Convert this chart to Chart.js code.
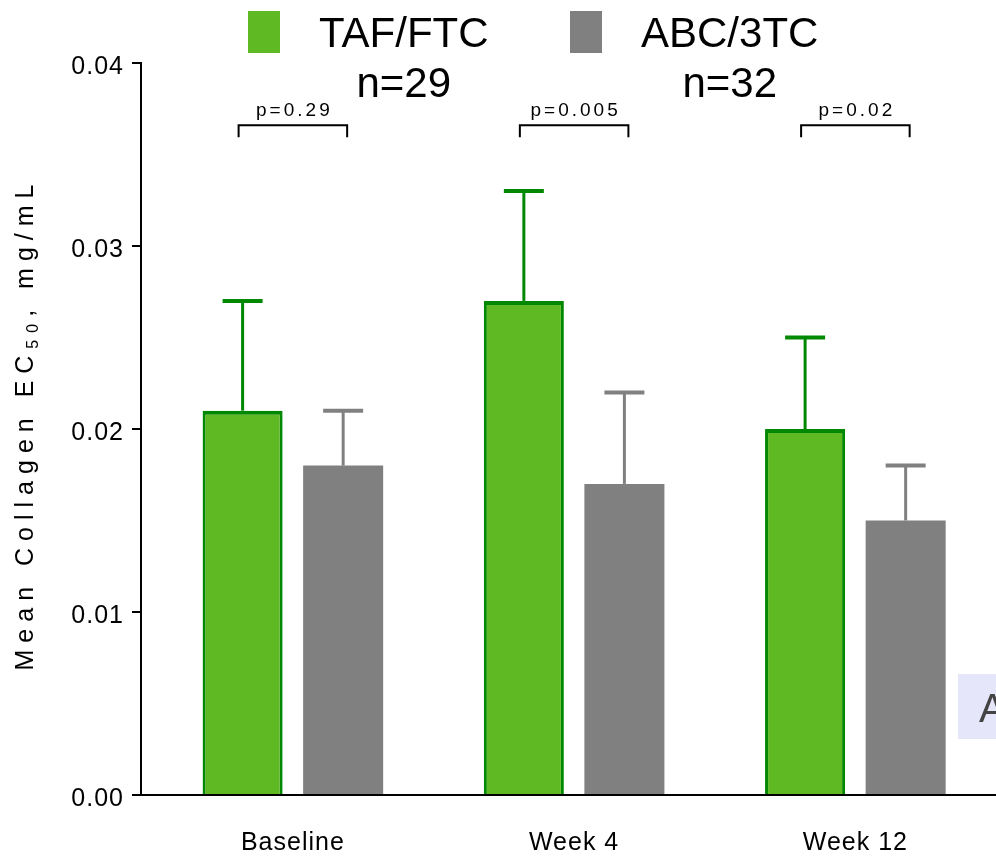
<!DOCTYPE html>
<html>
<head>
<meta charset="utf-8">
<script src="https://cdn.jsdelivr.net/npm/chart.js@4.4.1/dist/chart.umd.min.js"></script>
<style>
  html, body { margin: 0; padding: 0; background: #fff; }
  #wrap { width: 996px; height: 856px; position: relative; }
</style>
</head>
<body>
<div id="wrap"><canvas id="collagen-chart"></canvas></div>
<script>
const categories = ['Baseline', 'Week 4', 'Week 12'];
const tafValues = [0.021, 0.027, 0.020];
const tafErrors = [0.006, 0.006, 0.005];
const abcValues = [0.018, 0.017, 0.015];
const abcErrors = [0.003, 0.005, 0.003];
const groupLabels = ['TAF/FTC', 'ABC/3TC'];
const groupSizes = ['n=29', 'n=32'];
const pValues = ['p=0.29', 'p=0.005', 'p=0.02'];
const yTicks = [0, 0.01, 0.02, 0.03, 0.04];

const GREEN = '#5eb923';
const DARK_GREEN = '#008800';
const GRAY = '#808080';
const SANS = "'Liberation Sans', Arial, sans-serif";

// chart.js has no letter spacing option, so set it on the context
const spacing = {
  id: 'spacing',
  beforeLayout(chart) { chart.ctx.letterSpacing = '1px'; },
  beforeDraw(chart) { chart.ctx.letterSpacing = '1px'; }
};

const errorBars = {
  id: 'errorBars',
  afterDatasetsDraw(chart) {
    const { ctx } = chart;
    const y = chart.scales.y;
    chart.data.datasets.forEach((ds, di) => {
      const meta = chart.getDatasetMeta(di);
      meta.data.forEach((bar, i) => {
        const top = y.getPixelForValue(ds.data[i].y + ds.errors[i]);
        ctx.save();
        ctx.strokeStyle = ds.errorColor;
        ctx.lineWidth = 3;
        ctx.beginPath();
        ctx.moveTo(bar.x, bar.y);
        ctx.lineTo(bar.x, top);
        ctx.stroke();
        ctx.lineWidth = 4;
        ctx.beginPath();
        ctx.moveTo(bar.x - 20, top);
        ctx.lineTo(bar.x + 20, top);
        ctx.stroke();
        ctx.restore();
      });
    });
  }
};

const brackets = {
  id: 'brackets',
  afterDraw(chart) {
    const { ctx } = chart;
    const y = chart.scales.y;
    const a = chart.getDatasetMeta(0).data;
    const b = chart.getDatasetMeta(1).data;
    const yb = y.getPixelForValue(0.0366);
    ctx.save();
    ctx.strokeStyle = '#000';
    ctx.lineWidth = 2;
    ctx.fillStyle = '#000';
    ctx.font = '19px ' + SANS;
    ctx.letterSpacing = '3px';
    ctx.textAlign = 'center';
    ctx.textBaseline = 'alphabetic';
    categories.forEach((c, i) => {
      const x1 = a[i].x - 4, x2 = b[i].x + 4;
      ctx.beginPath();
      ctx.moveTo(x1, yb + 12);
      ctx.lineTo(x1, yb);
      ctx.lineTo(x2, yb);
      ctx.lineTo(x2, yb + 12);
      ctx.stroke();
      ctx.fillText(pValues[i], (x1 + x2) / 2 + 1.5, yb - 9);
    });
    ctx.restore();
  }
};

const topLegend = {
  id: 'topLegend',
  afterDraw(chart) {
    const { ctx } = chart;
    const boxX = [248, 570];
    ctx.save();
    ctx.letterSpacing = '0px';
    ctx.font = '42px ' + SANS;
    ctx.textBaseline = 'alphabetic';
    chart.data.datasets.forEach((ds, i) => {
      ctx.fillStyle = ds.backgroundColor;
      ctx.fillRect(boxX[i], 11, 32, 42);
      const tx = boxX[i] + 71;
      const w = ctx.measureText(groupLabels[i]).width;
      ctx.fillStyle = '#000';
      ctx.textAlign = 'left';
      ctx.fillText(groupLabels[i], tx, 47);
      ctx.textAlign = 'center';
      ctx.fillText(groupSizes[i], tx + w / 2, 97);
    });
    ctx.restore();
  }
};

const yTitle = {
  id: 'yTitle',
  afterDraw(chart) {
    const { ctx } = chart;
    const area = chart.chartArea;
    const parts = [
      { t: 'Mean Collagen EC', size: 25, dy: 0 },
      { t: '50', size: 16, dy: 5 },
      { t: ', mg/mL', size: 25, dy: 0 }
    ];
    ctx.save();
    ctx.letterSpacing = '7px';
    ctx.fillStyle = '#000';
    ctx.textBaseline = 'alphabetic';
    ctx.textAlign = 'left';
    let total = 0;
    parts.forEach(p => {
      ctx.font = p.size + 'px ' + SANS;
      p.w = ctx.measureText(p.t).width;
      total += p.w;
    });
    ctx.translate(33, (area.top + area.bottom) / 2 - 5);
    ctx.rotate(-Math.PI / 2);
    let x = -total / 2;
    parts.forEach(p => {
      ctx.font = p.size + 'px ' + SANS;
      ctx.fillText(p.t, x, p.dy);
      x += p.w;
    });
    ctx.restore();
  }
};

const cornerTag = {
  id: 'cornerTag',
  afterDraw(chart) {
    const { ctx } = chart;
    ctx.save();
    ctx.letterSpacing = '0px';
    ctx.fillStyle = '#e6e6fa';
    ctx.fillRect(958, 674, 40, 65);
    ctx.fillStyle = '#444';
    ctx.font = '40px ' + SANS;
    ctx.textAlign = 'left';
    ctx.fillText('A', 979, 722);
    ctx.restore();
  }
};

new Chart(document.getElementById('collagen-chart'), {
  type: 'bar',
  data: {
    datasets: [{
      label: groupLabels[0],
      data: tafValues.map((v, i) => ({ x: i, y: v })),
      errors: tafErrors,
      errorColor: DARK_GREEN,
      backgroundColor: GREEN,
      borderColor: DARK_GREEN,
      borderWidth: { top: 4, left: 3, right: 3, bottom: 0 },
      borderSkipped: false
    }, {
      label: groupLabels[1],
      data: abcValues.map((v, i) => ({ x: i, y: v })),
      errors: abcErrors,
      errorColor: GRAY,
      backgroundColor: GRAY,
      borderWidth: 0
    }]
  },
  options: {
    responsive: true,
    maintainAspectRatio: false,
    animation: false,
    categoryPercentage: 0.715,
    barPercentage: 0.796,
    layout: { padding: { top: 63, left: 0, right: 0, bottom: 0 } },
    plugins: {
      legend: { display: false },
      tooltip: { enabled: false }
    },
    scales: {
      x: {
        type: 'linear',
        offset: false,
        min: -0.54,
        max: 2.5,
        afterBuildTicks(scale) {
          scale.ticks = categories.map((c, i) => ({ value: i }));
        },
        afterFit(scale) { scale.height = 61; },
        grid: { display: false, drawTicks: false },
        border: { display: true, color: '#000', width: 2 },
        ticks: {
          padding: 33,
          maxRotation: 0,
          color: '#000',
          font: { family: SANS, size: 25 },
          callback: (v) => categories[v]
        }
      },
      y: {
        min: 0,
        max: 0.04,
        afterFit(scale) { scale.width = 141; },
        afterBuildTicks(scale) {
          scale.ticks = yTicks.map(v => ({ value: v }));
        },
        grid: { display: true, drawOnChartArea: false, drawTicks: true, color: '#000', lineWidth: 2, tickLength: 9 },
        border: { display: true, color: '#000', width: 2 },
        ticks: {
          padding: 8,
          labelOffset: 4,
          color: '#000',
          font: { family: SANS, size: 25 },
          callback: (v) => v.toFixed(2)
        }
      }
    }
  },
  plugins: [spacing, errorBars, brackets, topLegend, yTitle, cornerTag]
});
</script>
</body>
</html>
